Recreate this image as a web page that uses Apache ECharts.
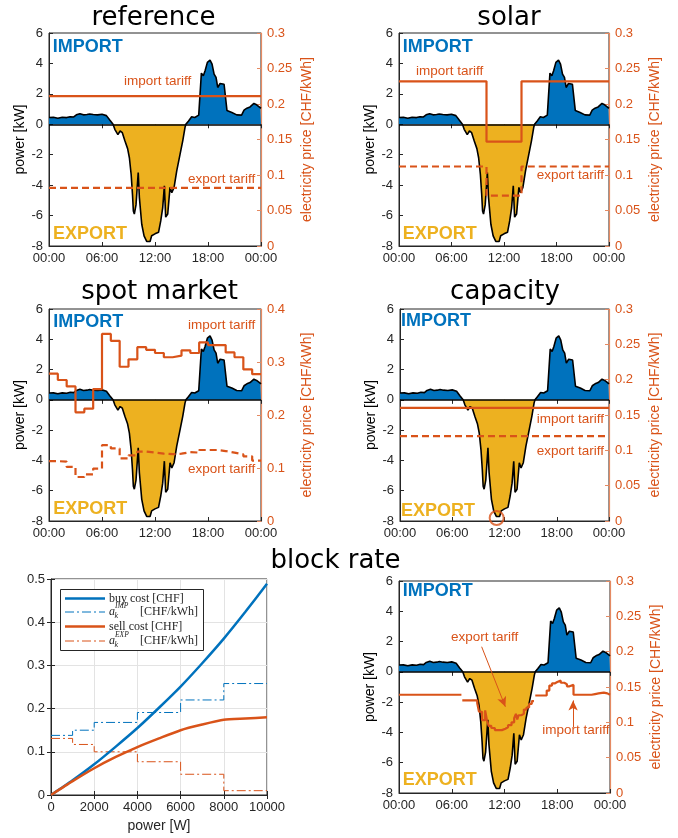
<!DOCTYPE html>
<html><head><meta charset="utf-8">
<script src="https://cdn.jsdelivr.net/npm/echarts@6/dist/echarts.min.js"></script>
<style>html,body{margin:0;padding:0;background:#fff}#c{width:678px;height:838px}</style>
</head><body><div id="c"></div>
<script>
// ---------------- data ----------------
const timeTicks = ['00:00', '06:00', '12:00', '18:00', '00:00'];

// household net power profile [kW] (positive = import, negative = export)
const hours = [0, 0.5, 1.0, 1.5, 2.0, 2.4, 2.8, 3.1, 3.5, 3.9, 4.3, 4.6, 5.0, 5.5, 6.0, 6.5, 6.9, 7.25,
  7.45, 7.8, 8.05, 8.3, 8.6, 8.9, 9.1, 9.3, 9.45, 9.55, 9.66, 9.85, 10.1, 10.23, 10.5, 10.76, 11.06,
  11.25, 11.44, 11.62, 11.81, 12.0, 12.2, 12.4, 12.65, 12.87, 13.06, 13.21, 13.44, 13.7, 13.9, 14.16,
  14.46, 14.84, 15.14, 15.4, 15.5, 15.8, 16.15, 16.5, 16.95, 17.25, 17.47, 17.67, 17.93, 18.23, 18.46,
  18.69, 18.91, 19.1, 19.37, 19.56, 19.82, 20.0, 20.15, 20.7, 21.25, 21.8, 22.08, 22.4, 22.76, 23.2,
  23.5, 23.9, 24];
const powerKW = [0.45, 0.46, 0.40, 0.46, 0.44, 0.50, 0.48, 0.62, 0.70, 0.62, 0.64, 0.68, 0.64, 0.62, 0.66, 0.57, 0.26, 0,
  -0.33, -0.68, -0.44, -0.55, -1.1, -1.6, -2.2, -3.3, -4.6, -5.7, -5.9, -5.3, -3.17, -4.8, -6.57, -7.33, -7.7,
  -7.82, -7.7, -7.33, -7.4, -7.2, -7.25, -7.1, -6.35, -5.5, -4.05, -6.1, -5.9, -4.15, -4.5, -4.15,
  -3.06, -1.96, -1.09, -0.2, 0, 0.22, 0.49, 0.45, 0.6, 3.36, 3.19, 3.52, 4.07, 4.22, 3.95,
  3.3, 3.08, 2.42, 2.68, 2.74, 2.63, 2.6, 0.9, 0.78, 0.62, 0.6, 0.93, 1.06, 1.14, 1.37,
  1.28, 1.1, 1.05];

// reference tariff [CHF/kWh]
const flatHours = [0, 24];
const refImport = [0.211, 0.211];
const refExport = [0.082, 0.082];
// solar tariff
const solarHours = [0, 10, 14, 24];
const solarImport = [0.232, 0.147, 0.232, 0.232];
const solarExport = [0.112, 0.071, 0.112, 0.112];
// spot market tariff (hourly)
const spotHours = [0, 1, 2, 3, 4, 5, 6, 7, 8, 9, 10, 11, 12, 13, 14, 15, 16, 17, 18, 19, 20, 21, 22, 23, 24];
const spotImport = [0.278, 0.266, 0.254, 0.205, 0.212, 0.249, 0.353, 0.340, 0.291, 0.305, 0.328, 0.323, 0.317,
  0.309, 0.312, 0.322, 0.317, 0.337, 0.332, 0.332, 0.318, 0.309, 0.286, 0.277, 0.277];
const spotExport = [0.113, 0.112, 0.102, 0.083, 0.088, 0.099, 0.143, 0.137, 0.118, 0.124, 0.131, 0.129, 0.127,
  0.126, 0.127, 0.130, 0.129, 0.134, 0.134, 0.132, 0.129, 0.126, 0.122, 0.114, 0.114];
// capacity tariff
const capImport = [0.16, 0.16];
const capExport = [0.12, 0.12];
const capPeak = [[11.1, -7.8]];
// block rate: cost curves and block prices
const blockEdges = [0, 1000, 2000, 4000, 6000, 8000, 10000];
const aImp = [0.138, 0.150, 0.168, 0.191, 0.220, 0.258, 0.258];
const aExp = [0.131, 0.117, 0.100, 0.077, 0.048, 0.010, 0.010];
const costPower = [0, 1000, 2000, 3000, 4000, 5000, 6000, 7000, 8000, 9000, 10000];
const buyCost = [0, 0.034, 0.071, 0.112, 0.155, 0.202, 0.251, 0.305, 0.362, 0.424, 0.489];
const sellCost = [0, 0.032, 0.062, 0.088, 0.111, 0.131, 0.150, 0.163, 0.174, 0.177, 0.180];
// block rate resulting tariff over the day
const brImpHours = [0, 7.1, 7.12, 15.5, 16.8, 17.1, 17.4, 17.7, 18.0, 18.4, 18.8, 19.1, 19.4, 19.85, 21.9, 22.3, 22.7, 23.3, 23.7, 24];
const brImpPrice = [0.139, 0.139, null, 0.138, 0.145, 0.152, 0.155, 0.157, 0.159, 0.156, 0.154, 0.151, 0.153, 0.139, 0.140, 0.141, 0.142, 0.141, 0.139, 0.138];
const brExpHours = [7.2, 8.9, 9.1, 9.45, 9.8, 10.0, 10.2, 10.5, 10.9, 11.7, 12.1, 12.4, 12.8, 13.1, 13.3, 13.45, 13.6, 13.9, 14.2, 14.5, 14.8, 15.1, 15.35];
const brExpPrice = [0.131, 0.127, 0.115, 0.103, 0.117, 0.103, 0.095, 0.092, 0.089, 0.091, 0.093, 0.096, 0.100, 0.106, 0.112, 0.104, 0.110, 0.112, 0.118, 0.121, 0.126, 0.130, 0.130];
const arrowExport = [[9.4, 0.207], [12.1, 0.122]];
const arrowImport = [[19.8, 0.093], [19.8, 0.131]];

// ---------------- styling ----------------
const BLUE = '#0072BD', GOLD = '#EDB120', ORANGE = '#D95319', ORANGE_AX = '#E58A62', INK = '#262626';
const FONT = '"Liberation Sans", Arial, Helvetica, sans-serif';
const SERIF = '"Liberation Serif", "Times New Roman", serif';

const pairs = (xs, ys) => xs.map((x, i) => [x, ys[i]]);
const profile = pairs(hours, powerKW);
const posPart = profile.map(([h, p]) => [h, Math.max(p, 0)]);
const negPart = profile.map(([h, p]) => [h, Math.min(p, 0)]);

const grids = [
  { left: 49, top: 33, width: 212, height: 213 },
  { left: 399, top: 33, width: 210, height: 213 },
  { left: 49, top: 309, width: 212, height: 212 },
  { left: 400, top: 309, width: 209, height: 212 },
  { left: 51, top: 579, width: 216, height: 216 },
  { left: 399, top: 581, width: 211, height: 212 }
].map(g => Object.assign({ show: true, borderColor: INK, borderWidth: 1, backgroundColor: 'transparent', containLabel: false }, g));

const tick = (c) => ({ show: true, inside: true, length: 4, lineStyle: { color: c } });
const lbl = (c) => ({ color: c, fontSize: 13, fontFamily: FONT, margin: 6 });

function timeAxes(g) {
  return [
    { type: 'value', gridIndex: g, min: 0, max: 24, interval: 6, position: 'bottom',
      axisLine: { show: true, onZero: false, lineStyle: { color: INK } }, axisTick: tick(INK),
      axisLabel: Object.assign(lbl(INK), { formatter: v => timeTicks[Math.round(v / 6)] }), splitLine: { show: false } },
    { type: 'value', gridIndex: g, min: 0, max: 24, interval: 6, position: 'top',
      axisLine: { show: false }, axisTick: tick(INK), axisLabel: { show: false }, splitLine: { show: false } }
  ];
}
function powerYAxes(g, pmax, pint) {
  return [
    { type: 'value', gridIndex: g, min: -8, max: 6, interval: 2, position: 'left',
      name: 'power [kW]', nameLocation: 'middle', nameRotate: 90, nameGap: 15,
      nameTextStyle: { color: '#000', fontSize: 14, fontFamily: FONT },
      axisLine: { show: true, onZero: false, lineStyle: { color: INK } }, axisTick: tick(INK),
      axisLabel: lbl(INK), splitLine: { show: false } },
    { type: 'value', gridIndex: g, min: 0, max: pmax, interval: pint, position: 'right',
      name: 'electricity price [CHF/kWh]', nameLocation: 'middle', nameRotate: 90, nameGap: 39,
      nameTextStyle: { color: ORANGE, fontSize: 14, fontFamily: FONT },
      axisLine: { show: true, onZero: false, lineStyle: { color: ORANGE_AX, width: 1.2 } }, axisTick: tick(ORANGE_AX),
      axisLabel: lbl(ORANGE), splitLine: { show: false } }
  ];
}
const xAxes = [], yAxes = [];
[0, 1, 2, 3].forEach(g => { xAxes.push(...timeAxes(g)); });
// block-rate cost panel axes
xAxes.push(
  { type: 'value', gridIndex: 4, min: 0, max: 10000, interval: 2000, position: 'bottom',
    name: 'power [W]', nameLocation: 'middle', nameGap: 24,
    nameTextStyle: { color: INK, fontSize: 14, fontFamily: FONT },
    axisLine: { show: true, onZero: false, lineStyle: { color: INK } }, axisTick: tick(INK),
    axisLabel: Object.assign(lbl(INK), { formatter: v => String(v) }),
    splitLine: { show: true, lineStyle: { color: '#E3E3E3', width: 1 } } },
  { type: 'value', gridIndex: 4, min: 0, max: 10000, interval: 2000, position: 'top',
    axisLine: { show: false }, axisTick: tick(INK), axisLabel: { show: false }, splitLine: { show: false } }
);
xAxes.push(...timeAxes(5));
yAxes.push(...powerYAxes(0, 0.3, 0.05), ...powerYAxes(1, 0.3, 0.05), ...powerYAxes(2, 0.4, 0.1), ...powerYAxes(3, 0.3, 0.05));
yAxes.push(
  { type: 'value', gridIndex: 4, min: 0, max: 0.5, interval: 0.1, position: 'left',
    axisLine: { show: true, onZero: false, lineStyle: { color: INK } }, axisTick: tick(INK), axisLabel: lbl(INK),
    splitLine: { show: true, lineStyle: { color: '#E3E3E3', width: 1 } } },
  { type: 'value', gridIndex: 4, min: 0, max: 0.5, interval: 0.1, position: 'right',
    axisLine: { show: false }, axisTick: tick(INK), axisLabel: { show: false }, splitLine: { show: false } }
);
yAxes.push(...powerYAxes(5, 0.3, 0.05));

function powerSeries(g) {
  const ax = { xAxisIndex: 2 * g, yAxisIndex: 2 * g };
  return [
    Object.assign({ type: 'line', data: posPart, showSymbol: false, lineStyle: { width: 0 }, areaStyle: { color: BLUE, opacity: 1 }, z: 2, silent: true }, ax),
    Object.assign({ type: 'line', data: negPart, showSymbol: false, lineStyle: { width: 0 }, areaStyle: { color: GOLD, opacity: 1 }, z: 2, silent: true }, ax),
    Object.assign({ type: 'line', data: profile, showSymbol: false, lineStyle: { color: '#000', width: 1.6 }, z: 3, silent: true,
      markLine: { silent: true, symbol: 'none', label: { show: false }, lineStyle: { color: '#000', width: 1.6, type: 'solid' }, data: [{ yAxis: 0 }] } }, ax)
  ];
}
function tariff(g, xs, ys, dashed, step) {
  return { type: 'line', xAxisIndex: 2 * g, yAxisIndex: 2 * g + 1, data: pairs(xs, ys), step: step || false,
    showSymbol: false, connectNulls: false, silent: true, z: 5,
    lineStyle: { color: ORANGE, width: 2.2, type: dashed ? [7, 4] : 'solid' } };
}

const series = [];
series.push(...powerSeries(0), tariff(0, flatHours, refImport, false), tariff(0, flatHours, refExport, true));
series.push(...powerSeries(1), tariff(1, solarHours, solarImport, false, 'end'), tariff(1, solarHours, solarExport, true, 'end'));
series.push(...powerSeries(2), tariff(2, spotHours, spotImport, false, 'end'), tariff(2, spotHours, spotExport, true, 'end'));
series.push(...powerSeries(3), tariff(3, flatHours, capImport, false), tariff(3, flatHours, capExport, true));
series.push({ type: 'scatter', xAxisIndex: 6, yAxisIndex: 6, data: capPeak, symbol: 'circle', symbolSize: 14, z: 6, silent: true,
  itemStyle: { color: 'rgba(0,0,0,0)', borderColor: ORANGE, borderWidth: 2 } });
// block-rate cost panel
const dashDot = [9, 3, 2, 3];
series.push(
  { type: 'line', xAxisIndex: 8, yAxisIndex: 8, data: pairs(blockEdges, aImp), step: 'end', showSymbol: false, silent: true, z: 3, lineStyle: { color: BLUE, width: 1, type: dashDot } },
  { type: 'line', xAxisIndex: 8, yAxisIndex: 8, data: pairs(blockEdges, aExp), step: 'end', showSymbol: false, silent: true, z: 3, lineStyle: { color: ORANGE, width: 1, type: dashDot } },
  { type: 'line', xAxisIndex: 8, yAxisIndex: 8, data: pairs(costPower, buyCost), smooth: 0.2, showSymbol: false, silent: true, z: 4, lineStyle: { color: BLUE, width: 2.5 } },
  { type: 'line', xAxisIndex: 8, yAxisIndex: 8, data: pairs(costPower, sellCost), smooth: 0.2, showSymbol: false, silent: true, z: 4, lineStyle: { color: ORANGE, width: 2.5 } }
);
// block-rate daily panel
series.push(...powerSeries(5), tariff(5, brImpHours, brImpPrice, false, 'end'));
const brExp = tariff(5, brExpHours, brExpPrice, false, 'end');
brExp.markLine = { silent: true, symbol: ['none', 'arrow'], symbolSize: [7, 10], label: { show: false },
  lineStyle: { color: ORANGE, width: 1, type: 'solid' },
  data: [[{ coord: arrowExport[0] }, { coord: arrowExport[1] }], [{ coord: arrowImport[0] }, { coord: arrowImport[1] }]] };
series.push(brExp);

// ---------------- annotations ----------------
function text(x, y, t, o) {
  return { type: 'text', x, y, z: 100, silent: true,
    style: Object.assign({ text: t, fill: '#000', fontSize: 14, fontFamily: FONT, align: 'left', verticalAlign: 'middle' }, o) };
}
const big = c => ({ fill: c, fontSize: 18, fontWeight: 'bold' });
const tar = { fill: ORANGE, fontSize: 13.5 };
const ttl = { fontSize: 26, fontFamily: '"DejaVu Sans", Verdana, sans-serif', align: 'center' };
const graphic = [
  text(153.5, 18, 'reference', ttl), text(509, 18, 'solar', ttl), text(159.5, 292, 'spot market', ttl),
  text(505, 292, 'capacity', ttl), text(335.5, 561, 'block rate', ttl),
  text(52.7, 47, 'IMPORT', big(BLUE)), text(53, 234.4, 'EXPORT', big(GOLD)),
  text(124, 81, 'import tariff', tar), text(188, 179.3, 'export tariff', tar),
  text(402.7, 46.7, 'IMPORT', big(BLUE)), text(402.7, 234.4, 'EXPORT', big(GOLD)),
  text(416, 71, 'import tariff', tar), text(536.7, 175, 'export tariff', tar),
  text(53.3, 322, 'IMPORT', big(BLUE)), text(53.3, 508.7, 'EXPORT', big(GOLD)),
  text(188, 325, 'import tariff', tar), text(188, 469, 'export tariff', tar),
  text(401, 321, 'IMPORT', big(BLUE)), text(401, 511, 'EXPORT', big(GOLD)),
  text(536.7, 419.3, 'import tariff', tar), text(536.7, 451.7, 'export tariff', tar),
  text(402.7, 591.4, 'IMPORT', big(BLUE)), text(402.7, 780.4, 'EXPORT', big(GOLD)),
  text(451, 637.7, 'export tariff', tar), text(542.3, 730, 'import tariff', tar),
  // legend of block-rate cost panel
  { type: 'rect', z: 90, silent: true, shape: { x: 60.5, y: 589.5, width: 143, height: 61 }, style: { fill: '#fff', stroke: INK, lineWidth: 1 } },
  { type: 'line', z: 95, silent: true, shape: { x1: 65, y1: 598.5, x2: 105, y2: 598.5 }, style: { stroke: BLUE, lineWidth: 2.5 } },
  { type: 'line', z: 95, silent: true, shape: { x1: 65, y1: 612, x2: 105, y2: 612 }, style: { stroke: BLUE, lineWidth: 1, lineDash: dashDot } },
  { type: 'line', z: 95, silent: true, shape: { x1: 65, y1: 626.5, x2: 105, y2: 626.5 }, style: { stroke: ORANGE, lineWidth: 2.5 } },
  { type: 'line', z: 95, silent: true, shape: { x1: 65, y1: 641, x2: 105, y2: 641 }, style: { stroke: ORANGE, lineWidth: 1, lineDash: dashDot } },
  text(109, 598.5, 'buy cost [CHF]', { fontFamily: SERIF, fontSize: 12, fill: INK }),
  text(109, 612, 'a', { fontFamily: SERIF, fontSize: 12, fontStyle: 'italic', fill: INK }),
  text(115, 606, 'IMP', { fontFamily: SERIF, fontSize: 7.5, fontStyle: 'italic', fill: INK }),
  text(114.5, 615.5, 'k', { fontFamily: SERIF, fontSize: 8, fontStyle: 'italic', fill: INK }),
  text(140, 612, '[CHF/kWh]', { fontFamily: SERIF, fontSize: 12, fill: INK }),
  text(109, 626.5, 'sell cost [CHF]', { fontFamily: SERIF, fontSize: 12, fill: INK }),
  text(109, 641, 'a', { fontFamily: SERIF, fontSize: 12, fontStyle: 'italic', fill: INK }),
  text(115, 635, 'EXP', { fontFamily: SERIF, fontSize: 7.5, fontStyle: 'italic', fill: INK }),
  text(114.5, 644.5, 'k', { fontFamily: SERIF, fontSize: 8, fontStyle: 'italic', fill: INK }),
  text(140, 641, '[CHF/kWh]', { fontFamily: SERIF, fontSize: 12, fill: INK })
];

const chart = echarts.init(document.getElementById('c'), null, { renderer: 'canvas' });
chart.setOption({ animation: false, backgroundColor: '#fff', grid: grids, xAxis: xAxes, yAxis: yAxes, series, graphic });
</script>
</body></html>
